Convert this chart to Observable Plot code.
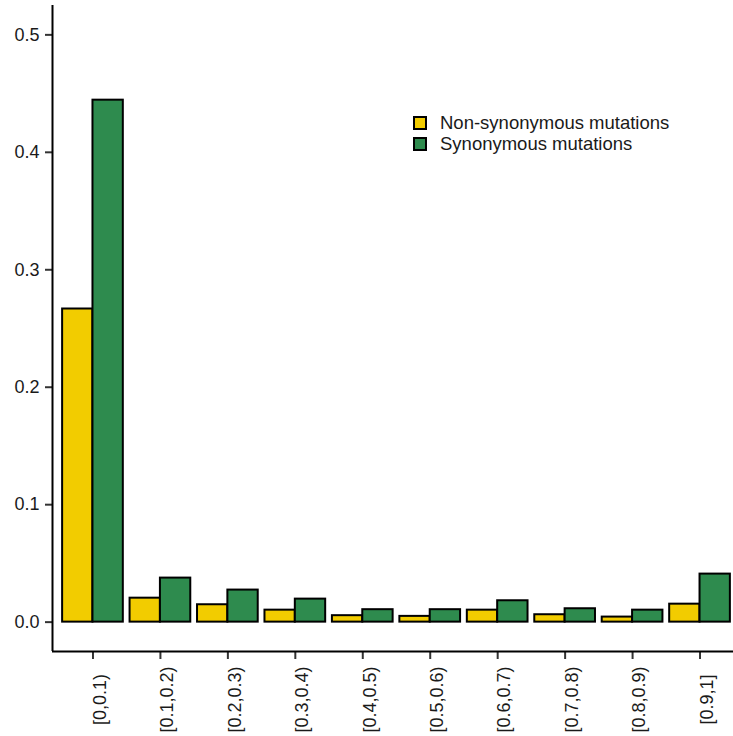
<!DOCTYPE html>
<html>
<head>
<meta charset="utf-8">
<script src="https://cdn.jsdelivr.net/npm/d3@7"></script>
<script src="https://cdn.jsdelivr.net/npm/@observablehq/plot@0.6"></script>
<style>
  html, body { margin: 0; padding: 0; background: #fff; }
  #wrap { position: relative; width: 733px; height: 736px; overflow: hidden; }
  #legend {
    position: absolute; left: 413px; top: 112px;
    font-family: "Liberation Sans", Arial, Helvetica, sans-serif;
    font-size: 18.5px; color: #1a1a1a;
  }
  #legend .item { display: flex; align-items: center; height: 21px; }
  #legend .key {
    width: 14px; height: 14px; box-sizing: border-box;
    border: 2px solid #000; margin-right: 13px;
  }
</style>
</head>
<body>
<div id="wrap"></div>
<script>
// Allele-frequency bins
const categories = ["[0,0.1)", "[0.1,0.2)", "[0.2,0.3)", "[0.3,0.4)", "[0.4,0.5)",
                    "[0.5,0.6)", "[0.6,0.7)", "[0.7,0.8)", "[0.8,0.9)", "[0.9,1]"];
const series = ["Non-synonymous mutations", "Synonymous mutations"];
const nonSynonymous = [0.2666, 0.0204, 0.0148, 0.0102, 0.0055, 0.0049, 0.0102, 0.0063, 0.0043, 0.0153];
const synonymous    = [0.4444, 0.0375, 0.0273, 0.0196, 0.0106, 0.0106, 0.0182, 0.0114, 0.0102, 0.0409];
const colors = ["#F2CC00", "#2E8B4E"];
const yTicks = [0, 0.1, 0.2, 0.3, 0.4, 0.5];

// Long table: one row per bar, dodged within each bin (group width 0.9)
const dodge = 0.45;
const rows = [];
categories.forEach((c, i) => {
  rows.push({i, bin: c, series: series[0], value: nonSynonymous[i], x1: i - dodge, x2: i});
  rows.push({i, bin: c, series: series[1], value: synonymous[i], x1: i, x2: i + dodge});
});

const xDomain = [-0.6, categories.length - 1 + 0.6];
const yDomain = [-0.025, 0.525];
const font = "Liberation Sans, Arial, Helvetica, sans-serif";

const chart = Plot.plot({
  width: 733,
  height: 736,
  marginLeft: 52,
  marginRight: 0,
  marginTop: 5,
  marginBottom: 85,
  style: {
    fontFamily: font,
    fontSize: "18px",
    color: "#1a1a1a",
    background: "#fff"
  },
  x: {domain: xDomain, range: [52, 740]},
  y: {domain: yDomain},
  color: {domain: series, range: colors},
  marks: [
    Plot.rect(rows, {
      x1: "x1", x2: "x2", y1: 0, y2: "value",
      fill: "series", stroke: "#000", strokeWidth: 2
    }),
    Plot.axisY({
      ticks: yTicks, tickFormat: d3.format(".1f"), fontSize: 18,
      tickSize: 7, tickPadding: 6, label: null, stroke: "#333", strokeWidth: 2
    }),
    Plot.axisX({
      ticks: d3.range(categories.length), tickFormat: i => categories[i], fontSize: 18,
      tickSize: 8, tickPadding: 40, tickRotate: -90,
      textAnchor: "middle", lineAnchor: "top",
      label: null, stroke: "#333", strokeWidth: 2
    }),
    Plot.ruleX([xDomain[0]], {stroke: "#000", strokeWidth: 2}),
    Plot.ruleY([yDomain[0]], {stroke: "#000", strokeWidth: 2})
  ]
});

const wrap = document.getElementById("wrap");
wrap.appendChild(chart);

// Legend inside the panel, upper right
const legend = document.createElement("div");
legend.id = "legend";
series.forEach((s, k) => {
  const item = document.createElement("div");
  item.className = "item";
  const key = document.createElement("span");
  key.className = "key";
  key.style.background = colors[k];
  const label = document.createElement("span");
  label.textContent = s;
  item.appendChild(key);
  item.appendChild(label);
  legend.appendChild(item);
});
wrap.appendChild(legend);
</script>
</body>
</html>
